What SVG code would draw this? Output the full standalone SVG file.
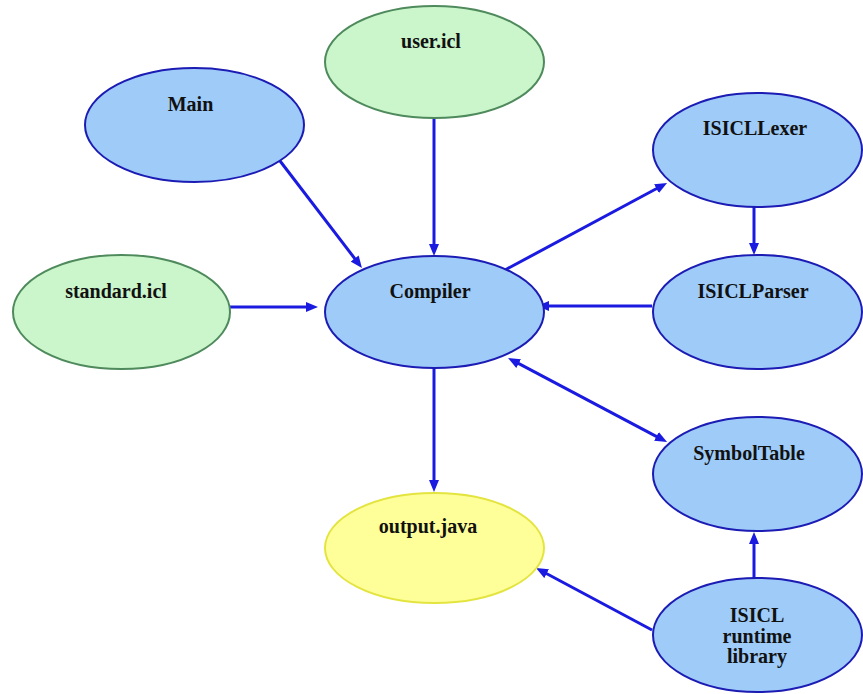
<svg xmlns="http://www.w3.org/2000/svg" width="863" height="694" viewBox="0 0 863 694">
<style>
.blue ellipse{fill:#9ecbf8;stroke:#1c1cb4;stroke-width:2}
.green ellipse{fill:#cbf5cb;stroke:#4e8a5c;stroke-width:2}
.yellow ellipse{fill:#ffff99;stroke:#e4e440;stroke-width:2}
text{font-family:"Liberation Serif","Times New Roman",serif;font-weight:bold;font-size:20px;fill:#111;text-anchor:middle}
.edges line{stroke:#1a1ae0;stroke-width:3;fill:none;marker-end:url(#ah)}
</style>
<defs>
<marker id="ah" markerWidth="12" markerHeight="10" refX="4" refY="5" orient="auto-start-reverse" markerUnits="userSpaceOnUse">
<path d="M0,0 L12,5 L0,10 z" fill="#1a1ae0"/>
</marker>
</defs>
<rect width="863" height="694" fill="#ffffff"/>
<g class="edges">
<line x1="277" y1="157" x2="357.1" y2="261.6"/>
<line x1="434" y1="118" x2="434" y2="248"/>
<line x1="230" y1="307" x2="310" y2="307"/>
<line x1="505" y1="270" x2="660" y2="186.8"/>
<line x1="754" y1="206" x2="754" y2="247"/>
<line x1="652" y1="306" x2="545" y2="306"/>
<line x1="515.1" y1="361.7" x2="660" y2="438.3" style="marker-start:url(#ah)"/>
<line x1="434" y1="368" x2="434" y2="484"/>
<line x1="754" y1="578" x2="754" y2="540"/>
<line x1="652" y1="630" x2="543.1" y2="571.8"/>
</g>
<g id="user_icl" class="green"><ellipse cx="434.5" cy="62" rx="109.5" ry="56"/><text x="431" y="48">user.icl</text></g>
<g id="main" class="blue"><ellipse cx="194.5" cy="125" rx="109.5" ry="57"/><text x="190.5" y="111">Main</text></g>
<g id="standard_icl" class="green"><ellipse cx="121.5" cy="312" rx="108.5" ry="57"/><text x="116" y="298">standard.icl</text></g>
<g id="compiler" class="blue"><ellipse cx="434.5" cy="312" rx="109.5" ry="56"/><text x="430" y="298">Compiler</text></g>
<g id="isicllexer" class="blue"><ellipse cx="757.5" cy="150" rx="104.5" ry="57"/><text x="755" y="135">ISICLLexer</text></g>
<g id="isiclparser" class="blue"><ellipse cx="757.5" cy="312" rx="104.5" ry="57"/><text x="753" y="298">ISICLParser</text></g>
<g id="symboltable" class="blue"><ellipse cx="757.5" cy="474" rx="104.5" ry="57"/><text x="749" y="460">SymbolTable</text></g>
<g id="output_java" class="yellow"><ellipse cx="434.5" cy="548" rx="109.5" ry="55"/><text x="428" y="533">output.java</text></g>
<g id="runtime_library" class="blue"><ellipse cx="757.5" cy="635" rx="104.5" ry="57"/><text x="757" y="622">ISICL</text><text x="757" y="643">runtime</text><text x="757" y="663">library</text></g>
</svg>
